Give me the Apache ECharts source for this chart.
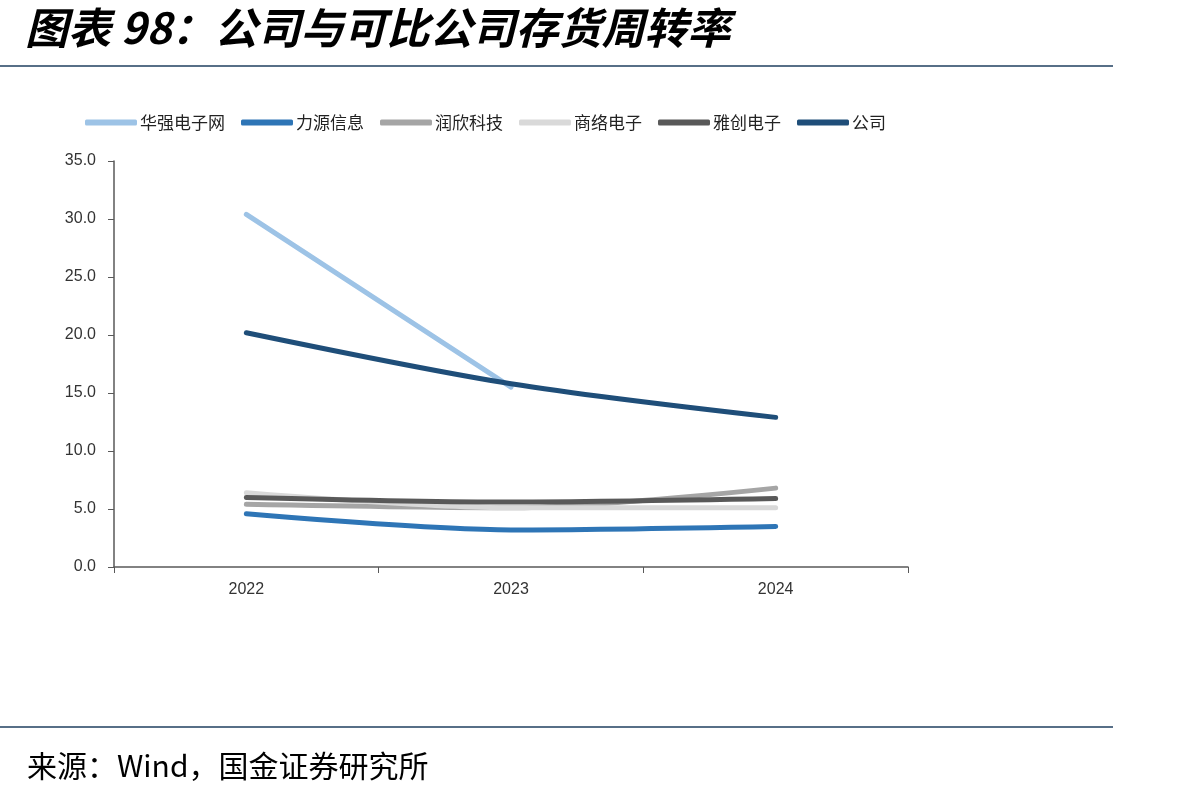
<!DOCTYPE html>
<html>
<head>
<meta charset="utf-8">
<script src="https://cdn.jsdelivr.net/npm/echarts@6/dist/echarts.min.js"></script>
<style>
  html, body { margin: 0; padding: 0; background: #fff; }
  #chart { width: 1204px; height: 798px; }
</style>
</head>
<body>
<div id="chart"></div>
<script>
const years = ['2022', '2023', '2024'];
const huaqiang = [30.4, 15.5, null];
const liyuan = [4.6, 3.2, 3.5];
const runxin = [5.4, 5.1, 6.8];
const shangluo = [6.4, 5.1, 5.1];
const yachuang = [6.0, 5.6, 5.9];
const company = [20.2, 15.8, 12.9];

const seriesDefs = [
  { name: '华强电子网', data: huaqiang, color: '#9dc3e6' },
  { name: '力源信息', data: liyuan, color: '#2e75b6' },
  { name: '润欣科技', data: runxin, color: '#a5a5a5' },
  { name: '商络电子', data: shangluo, color: '#d9d9d9' },
  { name: '雅创电子', data: yachuang, color: '#595959' },
  { name: '公司', data: company, color: '#1f4e79' }
];

const chart = echarts.init(document.getElementById('chart'));

const option = {
  backgroundColor: '#fff',
  animation: false,
  title: [
    {
      text: '图表 98：公司与可比公司存货周转率',
      left: 20, top: 1,
      textStyle: {
        fontFamily: 'Noto Sans CJK SC', fontSize: 43, fontWeight: 'bold',
        fontStyle: 'italic', color: '#000'
      }
    },
    {
      text: '来源：Wind，国金证券研究所',
      left: 22, top: 746,
      textStyle: {
        fontFamily: 'Noto Sans CJK SC', fontSize: 30, fontWeight: 'normal', color: '#000'
      }
    }
  ],
  graphic: [
    { type: 'line', shape: { x1: 0, y1: 66, x2: 1113, y2: 66 }, style: { stroke: '#1f3f5f', lineWidth: 1.5 } },
    { type: 'line', shape: { x1: 0, y1: 727, x2: 1113, y2: 727 }, style: { stroke: '#1f3f5f', lineWidth: 1.5 } }
  ],
  legend: {
    left: 80, top: 109,
    itemWidth: 52, itemHeight: 6, itemGap: 16,
    icon: 'roundRect',
    textStyle: { fontFamily: 'Noto Sans CJK SC', fontSize: 17, color: '#222', padding: [0, 0, 0, -2] },
    data: seriesDefs.map(s => s.name)
  },
  grid: { left: 114, right: 296, top: 161, bottom: 231, containLabel: false },
  xAxis: {
    type: 'category',
    data: years,
    boundaryGap: true,
    axisLine: { lineStyle: { color: '#595959', width: 1.5 } },
    axisTick: { show: true, length: 6, lineStyle: { color: '#595959' } },
    axisLabel: { fontFamily: 'Liberation Sans', fontSize: 16, color: '#333', margin: 15 }
  },
  yAxis: {
    type: 'value',
    min: 0, max: 35, interval: 5,
    axisLine: { show: true, lineStyle: { color: '#595959', width: 1.5 } },
    axisTick: { show: true, length: 6, lineStyle: { color: '#595959' } },
    splitLine: { show: false },
    axisLabel: {
      fontFamily: 'Liberation Sans', fontSize: 16, color: '#333', margin: 18,
      formatter: v => v.toFixed(1)
    }
  },
  series: seriesDefs.map(s => ({
    name: s.name,
    type: 'line',
    data: s.data,
    smooth: 0.3,
    symbol: 'none',
    color: s.color,
    lineStyle: { width: 5, color: s.color, cap: 'round', join: 'round' },
    itemStyle: { color: s.color }
  }))
};

chart.setOption(option);
</script>
</body>
</html>
